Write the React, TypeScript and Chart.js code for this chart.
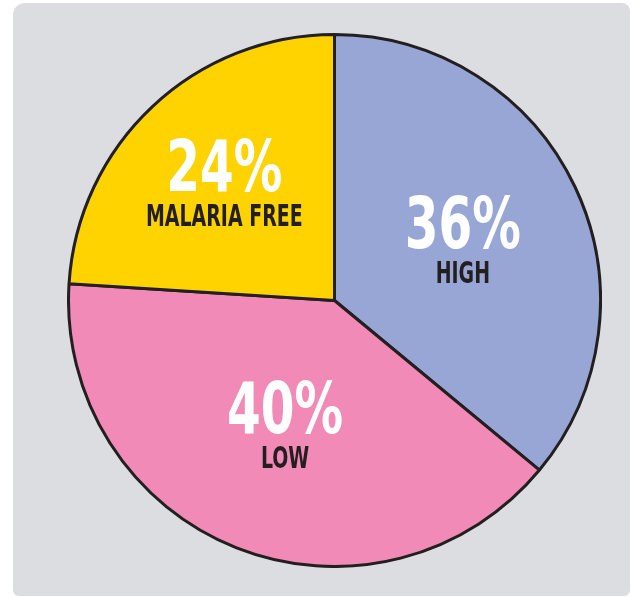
import React, { useEffect, useRef } from "react";
import { Chart, registerables } from "chart.js";

Chart.register(...registerables);

const categories = ["HIGH", "LOW", "MALARIA FREE"];
const shares = [36, 40, 24];
const sliceColors = ["#98a6d5", "#f18ab6", "#ffd300"];

const FONT = '"DejaVu Sans Condensed", "DejaVu Sans", sans-serif';

const labelPlugin = {
  id: "sliceLabels",
  afterDatasetsDraw(chart: any) {
    const ctx = chart.ctx;
    const meta = chart.getDatasetMeta(0);
    meta.data.forEach((arc: any, i: number) => {
      const { x, y, startAngle, endAngle, outerRadius } = arc.getProps(
        ["x", "y", "startAngle", "endAngle", "outerRadius"],
        true
      );
      const mid = (startAngle + endAngle) / 2;
      const span = endAngle - startAngle;
      // distance of the sector's area centroid from the centre
      const r = (4 * outerRadius * Math.sin(span / 2)) / (3 * span);
      const px = x + Math.cos(mid) * r;
      const py = y + Math.sin(mid) * r;
      ctx.save();
      ctx.translate(px, py + 8);
      ctx.scale(0.76, 1);
      ctx.textAlign = "center";
      ctx.textBaseline = "alphabetic";
      ctx.fillStyle = "#ffffff";
      ctx.font = "bold 71px " + FONT;
      ctx.fillText(shares[i] + "%", 0, 0);
      ctx.restore();
      ctx.save();
      ctx.translate(px, py + 43);
      ctx.scale(0.68, 1);
      ctx.textAlign = "center";
      ctx.textBaseline = "alphabetic";
      ctx.fillStyle = "#231f20";
      ctx.font = "bold 31px " + FONT;
      ctx.fillText(categories[i], 0, 0);
      ctx.restore();
    });
  },
};

export default function App() {
  const ref = useRef<HTMLCanvasElement | null>(null);
  useEffect(() => {
    if (!ref.current) return;
    const chart = new Chart(ref.current, {
      type: "pie",
      data: {
        labels: categories,
        datasets: [
          {
            data: shares,
            backgroundColor: sliceColors,
            borderColor: "#231f20",
            borderWidth: 3,
          },
        ],
      },
      options: {
        animation: false,
        responsive: false,
        maintainAspectRatio: false,
        plugins: { legend: { display: false }, tooltip: { enabled: false } },
        layout: { padding: 0 },
      },
      plugins: [labelPlugin],
    });
    return () => chart.destroy();
  }, []);
  return (
    <div style={{ position: "fixed", left: 0, top: 0, width: 631, height: 597, background: "#ffffff" }}>
      <div
        style={{
          position: "absolute",
          left: 13,
          top: 3,
          width: 617,
          height: 593,
          background: "#dcdde0",
          borderRadius: "12px 8px 6px 6px",
        }}
      />
      <canvas
        ref={ref}
        width={535}
        height={535}
        style={{ position: "absolute", left: 334 - 267.5, top: 300 - 267.5, width: 535, height: 535 }}
      />
    </div>
  );
}
